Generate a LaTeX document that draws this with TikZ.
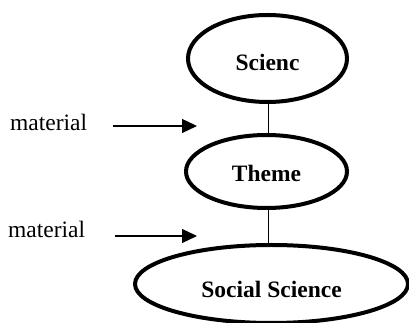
\documentclass[tikz,border=0pt]{standalone}
\usepackage{fontspec}
\setmainfont{Liberation Serif}
\usetikzlibrary{shapes.geometric,arrows.meta}
\begin{document}
\begin{tikzpicture}[x=1pt,y=1pt,
  oval/.style={ellipse,draw,line width=4pt,inner sep=0pt,
    font=\fontsize{23.5}{28}\selectfont\bfseries},
  lbl/.style={inner sep=0pt,anchor=base west,font=\fontsize{23.5}{28}\selectfont},
  link/.style={line width=1.4pt},
  arr/.style={line width=1.3pt,-{Triangle[length=15pt,width=14pt]}}]
\useasboundingbox (0,0) rectangle (409,323);
\clip (0,0) rectangle (409,323);
\node[oval,minimum width=159pt,minimum height=87pt,text height=25pt,text depth=0pt] (sci) at (267.5,264.5) {Scienc};
\node[oval,minimum width=161pt,minimum height=73pt,text height=21pt,text depth=0pt] (theme) at (266.5,151.5) {Theme};
\node[oval,minimum width=273pt,minimum height=78pt,text height=28pt,text depth=0pt] (soc) at (271.5,39) {Social Science};
\coordinate (axis) at (268.5,0);
\draw[link] (axis |- sci.south) -- (axis |- theme.north);
\draw[link] (axis |- theme.south) -- (axis |- soc.north);
\node[lbl] (m1) at (10,192) {material};
\node[lbl] (m2) at (8,85) {material};
\coordinate (a1s) at (113,197);
\coordinate (a1e) at (197,197);
\coordinate (a2s) at (115,87);
\coordinate (a2e) at (197,87);
\draw[arr] (a1s) -- (a1e);
\draw[arr] (a2s) -- (a2e);
\end{tikzpicture}
\end{document}
